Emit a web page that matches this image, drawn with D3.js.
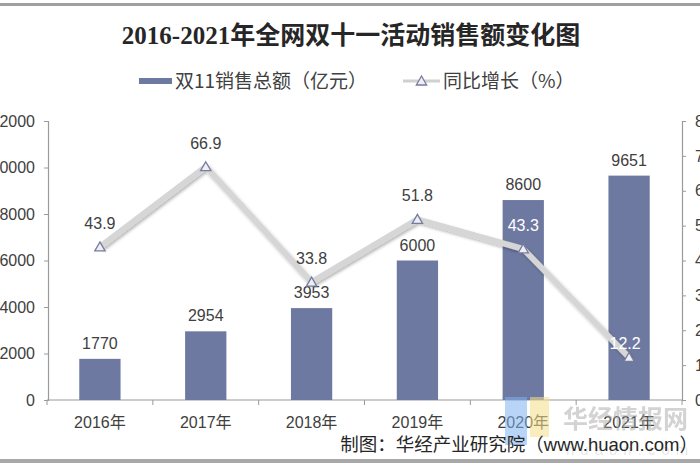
<!DOCTYPE html>
<html>
<head>
<meta charset="utf-8">
<script src="https://cdn.jsdelivr.net/npm/d3@7"></script>
<style>
  html, body { margin: 0; padding: 0; background: #fff; }
  svg { display: block; }
</style>
</head>
<body>
<div id="chart"></div>
<script>
// =========================
// DATA
// =========================
const years = ["2016年", "2017年", "2018年", "2019年", "2020年", "2021年"];
const sales = [1770, 2954, 3953, 6000, 8600, 9651];      // 亿元
const growth = [43.9, 66.9, 33.8, 51.8, 43.3, 12.2];    // %
const leftTicks = [0, 2000, 4000, 6000, 8000, 10000, 12000];
const rightTicks = [0, 10, 20, 30, 40, 50, 60, 70, 80];

// =========================
// SETUP
// =========================
const width = 700, height = 470;
const barColor = "#6e79a1";
const textColor = "#404040";
const axisColor = "#9a9a9a";

const svg = d3.select("#chart").append("svg")
    .attr("width", width)
    .attr("height", height);

const defs = svg.append("defs");
const shadow = defs.append("filter").attr("id", "shadow")
    .attr("x", "-20%").attr("y", "-20%").attr("width", "140%").attr("height", "140%");
shadow.append("feDropShadow")
    .attr("dx", 1.5).attr("dy", 2).attr("stdDeviation", 1.6)
    .attr("flood-color", "#000").attr("flood-opacity", 0.28);

// frame lines top / bottom
svg.append("rect").attr("x", 0).attr("y", 3).attr("width", width).attr("height", 3).attr("fill", "#a0a0a0");
svg.append("rect").attr("x", 0).attr("y", 459).attr("width", width).attr("height", 4).attr("fill", "#a8a8a8");

// =========================
// SCALES
// =========================
const x = d3.scaleBand()
    .domain(years)
    .range([47, 682])
    .paddingInner(0.61)
    .paddingOuter(0.305);

const yL = d3.scaleLinear().domain([0, 12000]).range([400, 121]);
const yR = d3.scaleLinear().domain([0, 80]).range([400, 121]);

// =========================
// AXES
// =========================
const axisFont = "'Liberation Sans', Arial, sans-serif";

const gL = svg.append("g")
    .attr("transform", "translate(48,0)")
    .call(d3.axisLeft(yL).tickValues(leftTicks).tickFormat(d3.format("d")).tickSize(4).tickPadding(9));
const gR = svg.append("g")
    .attr("transform", "translate(682,0)")
    .call(d3.axisRight(yR).tickValues(rightTicks).tickFormat(d3.format("d")).tickSize(4).tickPadding(9));

[gL, gR].forEach(g => {
    g.select(".domain").attr("stroke", axisColor).attr("stroke-width", 1.2);
    g.selectAll(".tick line").attr("stroke", axisColor);
    g.selectAll(".tick text")
        .attr("fill", textColor)
        .style("font-family", axisFont)
        .style("font-size", "16px");
});

// x axis: ticks between categories
const step = x.step();
const xBounds = d3.range(years.length + 1).map(i => x.range()[0] + i * step);
svg.append("line")
    .attr("x1", 47).attr("x2", 682)
    .attr("y1", 400).attr("y2", 400)
    .attr("stroke", axisColor).attr("stroke-width", 1.2);
svg.selectAll(".xtick").data(xBounds).enter().append("line")
    .attr("x1", d => d).attr("x2", d => d)
    .attr("y1", 400).attr("y2", 405)
    .attr("stroke", axisColor);
svg.selectAll(".xlabel").data(years).enter().append("text")
    .attr("x", d => x(d) + x.bandwidth() / 2)
    .attr("y", 428)
    .attr("text-anchor", "middle")
    .attr("fill", textColor)
    .style("font-family", axisFont + ", 'Noto Sans CJK SC'")
    .style("font-size", "16px")
    .text(d => d);

// =========================
// BARS
// =========================
svg.selectAll(".bar").data(sales).enter().append("rect")
    .attr("x", (d, i) => x(years[i]))
    .attr("y", d => yL(d))
    .attr("width", x.bandwidth())
    .attr("height", d => yL(0) - yL(d))
    .attr("fill", barColor);

svg.selectAll(".barlabel").data(sales).enter().append("text")
    .attr("x", (d, i) => x(years[i]) + x.bandwidth() / 2)
    .attr("y", d => yL(d) - 10)
    .attr("text-anchor", "middle")
    .attr("fill", textColor)
    .style("font-family", axisFont)
    .style("font-size", "16px")
    .text(d => d);

// =========================
// WATERMARK (logo)
// =========================
const wm = svg.append("g").attr("opacity", 0.55);
wm.append("rect").attr("x", 505).attr("y", 397).attr("width", 22).attr("height", 48).attr("fill", "#7fb2f0");
wm.append("rect").attr("x", 530).attr("y", 397).attr("width", 19).attr("height", 40).attr("fill", "#f5e08a");

// =========================
// LINE
// =========================
const cx = i => x(years[i]) + x.bandwidth() / 2;
const line = d3.line()
    .x((d, i) => cx(i))
    .y(d => yR(d));

svg.append("path")
    .datum(growth)
    .attr("d", line)
    .attr("fill", "none")
    .attr("stroke", "#d6d6d6")
    .attr("stroke-width", 6)
    .attr("stroke-linejoin", "round")
    .attr("filter", "url(#shadow)");

const tri = d3.symbol().type(d3.symbolTriangle).size(46);
svg.selectAll(".pt").data(growth).enter().append("path")
    .attr("d", tri)
    .attr("transform", (d, i) => `translate(${cx(i)},${yR(d) + 1})`)
    .attr("fill", "#eeeef4")
    .attr("stroke", "#767c9e")
    .attr("stroke-width", 1.3);

svg.selectAll(".ptlabel").data(growth).enter().append("text")
    .attr("x", (d, i) => cx(i) - (i === growth.length - 1 ? 4 : 0))
    .attr("y", (d, i) => yR(d) - (i === growth.length - 1 ? 8 : 18))
    .attr("text-anchor", "middle")
    .attr("fill", (d, i) => (yR(d) - 18 > yL(sales[i]) ? "#ffffff" : textColor))
    .style("font-family", axisFont)
    .style("font-size", "16px")
    .text(d => d.toFixed(1));

// watermark text on top
const wt = svg.append("g").attr("opacity", 0.5);
wt.append("text")
    .attr("x", 563).attr("y", 428)
    .attr("fill", "#a8a8a8")
    .style("font-family", "'Noto Sans CJK SC'")
    .style("font-weight", "bold")
    .style("font-size", "25px")
    .text("华经情报网");
wt.append("text")
    .attr("x", 566).attr("y", 455)
    .attr("fill", "#d0d0d0")
    .style("font-family", axisFont)
    .style("font-size", "15px")
    .style("letter-spacing", "6px")
    .text("huaon.com");

// =========================
// TITLE
// =========================
svg.append("text")
    .attr("x", 351).attr("y", 44)
    .attr("text-anchor", "middle")
    .attr("fill", "#262626")
    .style("font-family", "'Liberation Serif', 'Noto Sans CJK SC', serif")
    .style("font-weight", "bold")
    .style("font-size", "25px")
    .text("2016-2021年全网双十一活动销售额变化图");

// =========================
// LEGEND
// =========================
const legendFont = "'Noto Sans CJK SC', sans-serif";
svg.append("rect")
    .attr("x", 139).attr("y", 78).attr("width", 33).attr("height", 6)
    .attr("fill", barColor);
svg.append("text")
    .attr("x", 175).attr("y", 88)
    .attr("fill", textColor)
    .style("font-family", legendFont)
    .style("font-size", "19px")
    .text("双11销售总额（亿元）");

svg.append("line")
    .attr("x1", 403).attr("x2", 440).attr("y1", 81).attr("y2", 81)
    .attr("stroke", "#d0d0d0").attr("stroke-width", 3);
svg.append("path")
    .attr("d", tri)
    .attr("transform", "translate(421.5,82)")
    .attr("fill", "#eeeef4")
    .attr("stroke", "#767c9e")
    .attr("stroke-width", 1.3);
svg.append("text")
    .attr("x", 443).attr("y", 88)
    .attr("fill", textColor)
    .style("font-family", legendFont)
    .style("font-size", "19px")
    .text("同比增长（%）");

// =========================
// SOURCE
// =========================
svg.append("text")
    .attr("x", 698).attr("y", 451)
    .attr("text-anchor", "end")
    .attr("fill", "#262626")
    .style("font-family", "'Liberation Sans', 'Noto Sans CJK SC', sans-serif")
    .style("font-size", "18.5px")
    .text("制图：华经产业研究院（www.huaon.com）");
</script>
</body>
</html>
